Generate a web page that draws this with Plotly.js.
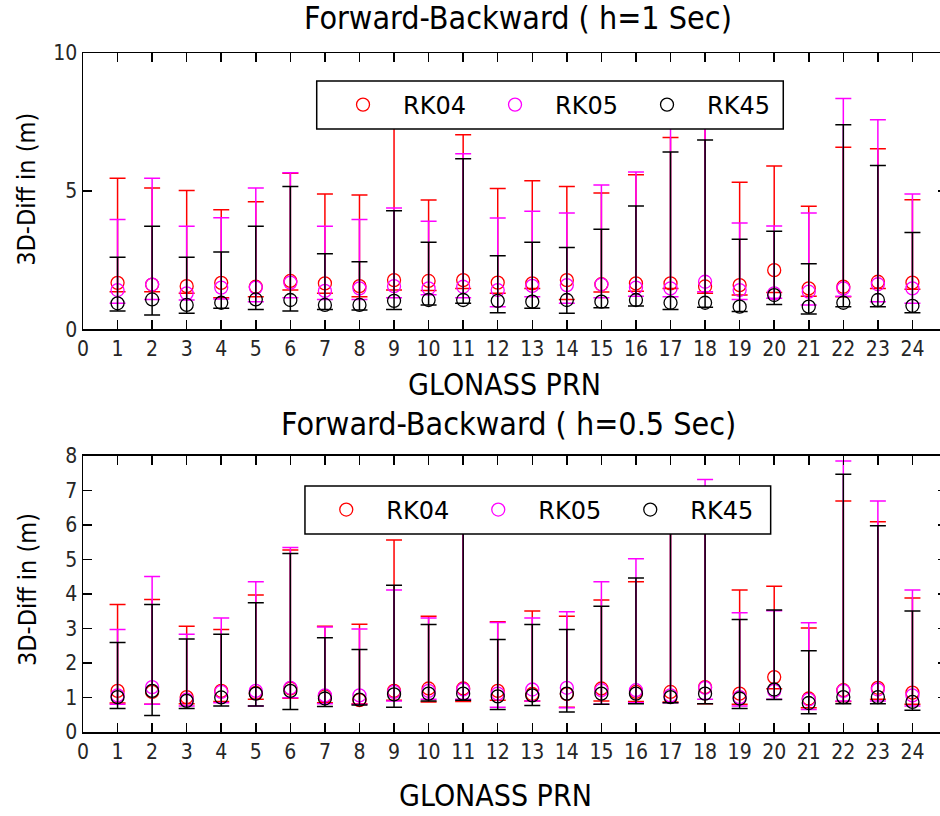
<!DOCTYPE html>
<html>
<head>
<meta charset="utf-8">
<script src="https://cdn.plot.ly/plotly-3.0.1.min.js"></script>
<style>
html,body{margin:0;padding:0;overflow:hidden;background:#fff;}
#chart{width:952px;height:816px;}
</style>
</head>
<body>
<div id="chart"></div>
<script>
// ---------- DATA ----------
const prn = [1,2,3,4,5,6,7,8,9,10,11,12,13,14,15,16,17,18,19,20,21,22,23,24];
const xTickVals = [0,1,2,3,4,5,6,7,8,9,10,11,12,13,14,15,16,17,18,19,20,21,22,23,24];
const seriesNames = ["RK04","RK05","RK45"];

// Top panel: Forward-Backward (h = 1 Sec)
const h1_rk04_mean  = [1.68,1.62,1.56,1.68,1.54,1.75,1.66,1.56,1.78,1.75,1.78,1.69,1.66,1.78,1.63,1.66,1.66,1.55,1.60,2.14,1.48,1.54,1.72,1.69];
const h1_rk04_upper = [5.47,5.11,5.02,4.33,4.62,5.65,4.90,4.86,8.20,4.68,7.04,5.10,5.38,5.17,4.93,5.59,6.94,7.60,5.32,5.91,4.45,6.59,6.53,4.69];
const h1_rk04_lower = [1.36,1.36,1.30,1.14,1.18,1.42,1.30,1.18,1.42,1.40,1.48,1.30,1.48,1.08,1.35,1.38,1.48,1.30,1.24,1.33,1.20,1.18,1.48,1.45];

const h1_rk05_mean  = [1.42,1.62,1.30,1.51,1.51,1.69,1.39,1.48,1.56,1.48,1.54,1.42,1.57,1.60,1.62,1.51,1.48,1.72,1.42,1.30,1.36,1.48,1.63,1.48];
const h1_rk05_upper = [3.97,5.47,3.73,4.04,5.11,5.67,3.73,3.97,4.39,3.91,6.35,4.03,4.27,4.21,5.22,5.69,7.60,7.80,3.85,3.74,4.21,8.35,7.58,4.90];
const h1_rk05_lower = [0.94,1.08,1.06,1.10,1.00,1.14,1.08,1.08,1.14,1.25,1.14,0.82,1.18,0.94,1.14,1.20,1.18,1.36,1.08,1.12,0.88,1.20,1.00,0.94];

const h1_rk45_mean  = [0.94,1.08,0.88,0.96,1.08,1.06,0.88,0.88,1.03,1.06,1.06,1.03,1.00,1.06,1.00,1.06,0.96,0.96,0.82,1.24,0.82,0.96,1.06,0.85];
const h1_rk45_upper = [2.61,3.73,2.61,2.80,3.73,5.17,2.73,2.44,4.29,3.15,6.17,2.66,3.15,2.96,3.62,4.46,6.42,6.85,3.26,3.55,2.37,7.40,5.93,3.50];
const h1_rk45_lower = [0.66,0.52,0.58,0.76,0.72,0.66,0.72,0.70,0.72,0.88,0.94,0.60,0.76,0.58,0.78,0.84,0.72,0.80,0.64,0.90,0.55,0.82,0.82,0.60];

// Bottom panel: Forward-Backward (h = 0.5 Sec)
const h05_rk04_mean  = [1.19,1.16,1.01,1.19,1.13,1.26,1.03,0.92,1.19,1.26,1.26,1.19,1.10,1.10,1.26,1.16,1.16,1.30,1.11,1.59,0.97,1.21,1.28,1.14];
const h05_rk04_upper = [3.69,3.84,3.06,2.97,3.97,5.27,3.06,3.12,5.56,3.35,6.30,3.19,3.50,3.35,3.82,4.35,6.50,6.60,4.11,4.22,3.01,6.69,6.09,3.88];
const h05_rk04_lower = [0.84,0.80,0.82,0.88,0.95,0.98,0.85,0.82,0.92,0.87,0.88,0.92,0.90,0.72,0.90,0.88,0.87,0.82,0.80,1.25,0.70,0.88,0.95,0.80];

const h05_rk05_mean  = [1.06,1.30,0.94,1.16,1.19,1.28,1.06,1.06,1.16,1.19,1.23,1.11,1.23,1.28,1.21,1.21,1.06,1.28,1.01,1.19,0.94,1.19,1.23,1.06];
const h05_rk05_upper = [2.97,4.50,2.83,3.30,4.35,5.34,3.04,2.98,4.11,3.30,6.40,3.17,3.30,3.48,4.35,5.02,6.60,7.31,3.45,3.51,3.16,7.85,6.69,4.11];
const h05_rk05_lower = [0.80,0.80,0.75,0.85,0.75,0.99,0.82,0.80,0.90,0.95,0.95,0.72,0.90,0.70,0.80,0.85,0.85,0.95,0.75,0.95,0.65,0.90,0.90,0.75];

const h05_rk45_mean  = [1.01,1.19,0.90,1.00,1.11,1.19,0.97,0.94,1.09,1.11,1.11,1.03,1.06,1.11,1.11,1.11,1.01,1.11,0.97,1.23,0.84,1.01,1.01,0.87];
const h05_rk45_upper = [2.59,3.69,2.69,2.83,3.74,5.17,2.73,2.39,4.25,3.11,6.80,2.68,3.11,2.97,3.64,4.46,6.90,6.90,3.26,3.53,2.35,7.46,5.97,3.50];
const h05_rk45_lower = [0.68,0.48,0.68,0.75,0.75,0.65,0.74,0.78,0.72,0.90,0.92,0.65,0.77,0.58,0.80,0.82,0.85,0.82,0.68,0.94,0.53,0.82,0.82,0.63];

// ---------- STYLE ----------
const colors = ["#ff0000","#ff00ff","#000000"];
const tickFont = {family:"Liberation Sans Narrow, DejaVu Sans Condensed, sans-serif", size:21, color:"#262626"};
const titleFont = {family:"DejaVu Sans Condensed, DejaVu Sans, sans-serif", size:32, color:"#000"};
const xLabelFont = {family:"DejaVu Sans Condensed, DejaVu Sans, sans-serif", size:30, color:"#000"};
const yLabelFont = {family:"DejaVu Sans Condensed, DejaVu Sans, sans-serif", size:25, color:"#000"};
const legendFont = {family:"DejaVu Sans, sans-serif", size:24, color:"#000"};

function mkTrace(mean, upper, lower, idx, xa, ya, leg){
  return {
    type:"scatter", mode:"markers",
    x: prn, y: mean, name: seriesNames[idx],
    xaxis: xa, yaxis: ya, legend: leg,
    marker:{symbol:"circle-open", size:13, color:colors[idx], line:{width:1.3, color:colors[idx]}},
    error_y:{type:"data", symmetric:false,
      array: upper.map((u,i)=>u-mean[i]),
      arrayminus: mean.map((m,i)=>m-lower[i]),
      color:colors[idx], thickness:1.5, width:8},
    hoverinfo:"skip"
  };
}

const data = [
  mkTrace(h1_rk04_mean, h1_rk04_upper, h1_rk04_lower, 0, "x", "y", "legend"),
  mkTrace(h1_rk05_mean, h1_rk05_upper, h1_rk05_lower, 1, "x", "y", "legend"),
  mkTrace(h1_rk45_mean, h1_rk45_upper, h1_rk45_lower, 2, "x", "y", "legend"),
  mkTrace(h05_rk04_mean, h05_rk04_upper, h05_rk04_lower, 0, "x2", "y2", "legend2"),
  mkTrace(h05_rk05_mean, h05_rk05_upper, h05_rk05_lower, 1, "x2", "y2", "legend2"),
  mkTrace(h05_rk45_mean, h05_rk45_upper, h05_rk45_lower, 2, "x2", "y2", "legend2")
];

const axBase = {
  showline:true, linecolor:"#000", linewidth:1.5, mirror:"ticks",
  ticks:"inside", ticklen:9, tickwidth:1.5, tickcolor:"#000",
  showgrid:false, zeroline:false, tickfont:tickFont, fixedrange:true
};

const legBase = {
  orientation:"h", bgcolor:"rgba(0,0,0,0)", borderwidth:0,
  font:legendFont, itemwidth:70, entrywidth:67, entrywidthmode:"pixels",
  xanchor:"left", yanchor:"middle", itemclick:false, itemdoubleclick:false
};

const layout = {
  width:952, height:816,
  margin:{l:83, r:5, t:53, b:84},
  paper_bgcolor:"#fff", plot_bgcolor:"#fff",
  showlegend:true,
  xaxis: Object.assign({}, axBase, {domain:[0,1], range:[0,25], tickvals:xTickVals, anchor:"y"}),
  yaxis: Object.assign({}, axBase, {domain:[0.5931,1], range:[0,10], tickvals:[0,5,10], anchor:"x"}),
  xaxis2: Object.assign({}, axBase, {domain:[0,1], range:[0,25], tickvals:xTickVals, anchor:"y2"}),
  yaxis2: Object.assign({}, axBase, {domain:[0,0.4069], range:[0,8], tickvals:[0,1,2,3,4,5,6,7,8], anchor:"x2"}),
  legend: Object.assign({}, legBase, {x:0.2778, y:0.9234}),
  legend2: Object.assign({}, legBase, {x:0.2584, y:0.327}),
  shapes:[
    {type:"rect", xref:"paper", yref:"paper", x0:0.2705, x1:0.8105, y0:0.8881, y1:0.9588,
     fillcolor:"#fff", line:{color:"#000", width:1.5}, layer:"above"},
    {type:"rect", xref:"paper", yref:"paper", x0:0.2569, x1:0.7959, y0:0.2916, y1:0.3623,
     fillcolor:"#fff", line:{color:"#000", width:1.5}, layer:"above"}
  ],
  annotations:[
    {text:"Forward-Backward ( h=1 Sec)", xref:"paper", yref:"paper", x:0.5035, y:1.0515, showarrow:false, xanchor:"center", yanchor:"middle", font:titleFont},
    {text:"GLONASS PRN", xref:"paper", yref:"paper", x:0.488, y:0.5125, showarrow:false, xanchor:"center", yanchor:"middle", font:xLabelFont},
    {text:"3D-Diff in (m)", xref:"paper", yref:"paper", x:-0.0648, y:0.7985, showarrow:false, xanchor:"center", yanchor:"middle", textangle:-90, font:yLabelFont},
    {text:"Forward-Backward ( h=0.5 Sec)", xref:"paper", yref:"paper", x:0.493, y:0.4536, showarrow:false, xanchor:"center", yanchor:"middle", font:titleFont},
    {text:"GLONASS PRN", xref:"paper", yref:"paper", x:0.478, y:-0.0928, showarrow:false, xanchor:"center", yanchor:"middle", font:xLabelFont},
    {text:"3D-Diff in (m)", xref:"paper", yref:"paper", x:-0.0648, y:0.209, showarrow:false, xanchor:"center", yanchor:"middle", textangle:-90, font:yLabelFont}
  ]
};

Plotly.newPlot("chart", data, layout, {staticPlot:true, displayModeBar:false});
</script>
</body>
</html>
